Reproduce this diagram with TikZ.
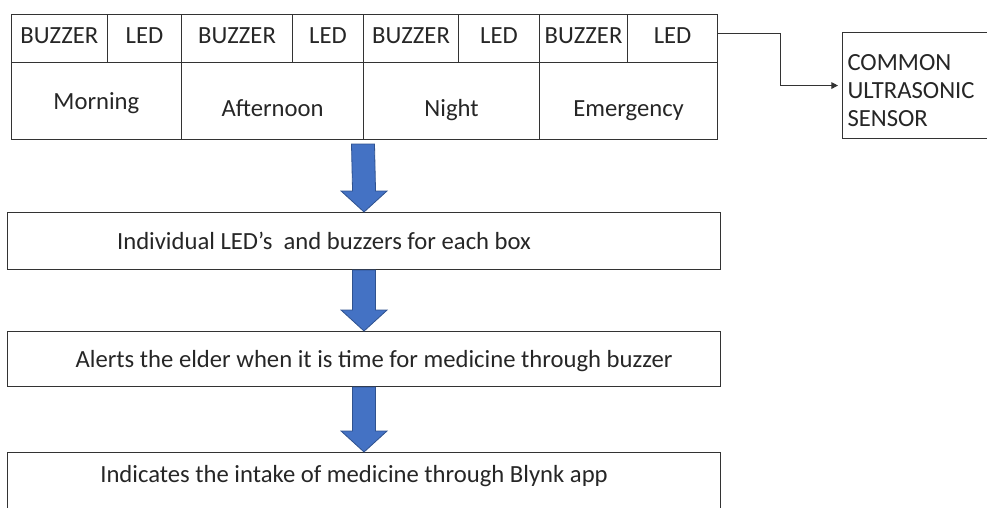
\documentclass[tikz,border=0pt]{standalone}
\usepackage{fontspec}
\setmainfont{Carlito}
\usetikzlibrary{positioning,calc,arrows.meta}
\definecolor{arrowblue}{HTML}{4472C4}
\definecolor{arrowedge}{HTML}{2F528F}

\begin{document}
\begin{tikzpicture}[x=0.75pt,y=-0.75pt,
    every node/.style={font=\fontsize{18.5}{21}\selectfont, text=black!85},
    cell/.style={draw=black!80, line width=0.8pt, inner sep=0pt, anchor=north west},
    flowbox/.style={draw=black!80, line width=0.8pt, inner sep=0pt, anchor=north west,
        minimum width=713*0.75pt, minimum height=#1*0.75pt},
    flowtext/.style={text height=12pt, text depth=0pt},
    blockarrow/.style={fill=arrowblue, draw=arrowedge, line width=0.6pt}]
    \useasboundingbox (0,0) rectangle (987,507);
    \clip (0,0) rectangle (987,507);

    % Box table: upper row
    \foreach \x/\w/\name/\txt in {10.7/96.3/bz1/BUZZER, 107/74/led1/LED, 181/111/bz2/BUZZER, 292/71/led2/LED,
                                  363/95/bz3/BUZZER, 458/81/led3/LED, 539/88/bz4/BUZZER, 627/90/led4/LED}
        \node[cell, minimum width=\w*0.75pt, minimum height=48*0.75pt, text height=7.4pt, text depth=0pt] (\name) at (\x,14) {\txt};

    % Box table: lower row
    \foreach \x/\w/\h/\name/\txt in {10.7/170.3/13pt/morning/Morning, 181/182/23pt/afternoon/Afternoon,
                                     363/176/23pt/night/Night, 539/178/23pt/emergency/Emergency}
        \node[cell, minimum width=\w*0.75pt, minimum height=77*0.75pt, text height=\h, text depth=0pt] (\name) at (\x,62) {\txt};

    % Sensor
    \node[cell, minimum width=160*0.75pt, minimum height=106*0.75pt, align=left, text height=19pt,
          text width=150*0.75pt, inner xsep=5*0.75pt] (sensor) at (842,32) {COMMON\\ULTRASONIC\\SENSOR};
    \draw[-{Triangle[length=5pt,width=5pt]}, line width=0.8pt, draw=black!80, shorten >=3pt]
        ([yshift=3.75pt]led4.east) -- ++(62,0) |- (sensor.west);

    % Flow boxes
    \node[flowbox=57] (info) at (7,212) {};
    \node[flowbox=55] (alert) at (7,331) {};
    \node[flowbox=57] (intake) at (7,452) {};
    \node[flowtext] (infotext) at ([xshift=-30pt]info.center) {Individual LED’s~ and buzzers for each box};
    \node[flowtext] (alerttext) at ([xshift=7.5pt]alert.center) {Alerts the elder when it is time for medicine through buzzer};
    \node[flowtext] (intaketext) at ([xshift=-7.5pt,yshift=5pt]intake.center) {Indicates the intake of medicine through Blynk app};

    % Block arrows
    \foreach \a/\b/\gap in {night.south west/info.north/4, info.south/alert.north/0, alert.south/intake.north/0}
        \filldraw[blockarrow] ($(\a)+(-11.5,\gap)$) -- ($(\a)+(11.5,\gap)$) -- ($(\b)+(11.5,-21)$)
            -- ($(\b)+(23,-21)$) -- (\b) -- ($(\b)+(-23,-21)$) -- ($(\b)+(-11.5,-21)$) -- cycle;
\end{tikzpicture}
\end{document}
